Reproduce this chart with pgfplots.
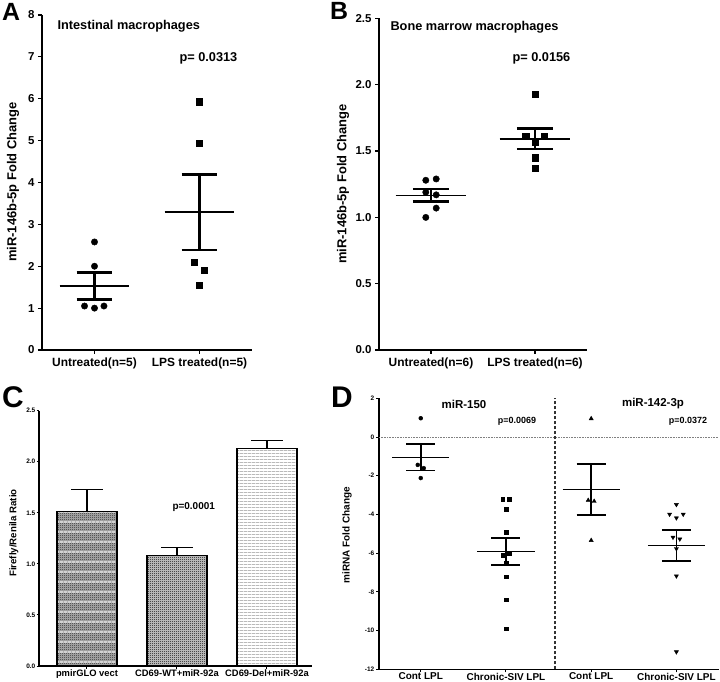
\documentclass[border=0pt]{standalone}
\usepackage{fontspec}
\setmainfont{Liberation Sans}
\usepackage{pgfplots}
\pgfplotsset{compat=1.18}
\usetikzlibrary{patterns}

% fine patterns for the bars of panel C
\pgfdeclarepatternformonly{fcheck}{\pgfpointorigin}{\pgfqpoint{2bp}{2bp}}{\pgfqpoint{2bp}{2bp}}{%
  \pgfpathrectangle{\pgfpointorigin}{\pgfqpoint{1bp}{1bp}}%
  \pgfpathrectangle{\pgfqpoint{1bp}{1bp}}{\pgfqpoint{1bp}{1bp}}%
  \pgfusepath{fill}}
\pgfdeclarepatternformonly{bands}{\pgfpointorigin}{\pgfqpoint{4bp}{9.7bp}}{\pgfqpoint{4bp}{9.7bp}}{%
  \pgfpathrectangle{\pgfpointorigin}{\pgfqpoint{4.05bp}{2bp}}%
  \pgfusepath{fill}}
\pgfdeclarepatternformonly{hlines}{\pgfpointorigin}{\pgfqpoint{4bp}{3bp}}{\pgfqpoint{4bp}{3bp}}{%
  \pgfpathrectangle{\pgfpointorigin}{\pgfqpoint{4.05bp}{1.2bp}}%
  \pgfusepath{fill}}

\newcommand{\fs}[1]{\fontsize{#1}{#1}\selectfont\bfseries}

\pgfplotsset{
  gp/.style={
    scale only axis,
    anchor=south west,
    axis x line=bottom, axis y line=left,
    axis line style={-, line width=1.4bp},
    tick align=outside,
    major tick length=4bp,
    tick style={black, line width=1.2bp},
    /pgf/number format/assume math mode=true,
    clip=false,
  },
}

\begin{document}
\begin{tikzpicture}

% ---------------- A ----------------
\begin{axis}[gp, at={(42bp,332bp)}, width=210bp, height=335bp,
  xmin=0.5, xmax=2.5, ymin=0, ymax=8, ytick={0,...,8},
  xtick={1,2}, xticklabels={Untreated(n=5), LPS treated(n=5)},
  yticklabel style={font=\fs{11.5}},
  xticklabel style={font=\fs{12}}]
  \addplot[only marks, mark=*, mark size=3.2bp, black] coordinates {
    (1,2.58) (1,2.0) (0.905,1.05) (1,1.0) (1.09,1.05)};
  \addplot[only marks, mark=square*, mark size=3.1bp, black] coordinates {
    (2,5.93) (2,4.93) (1.952,2.1) (2.045,1.9) (2,1.55)};
  \addplot[line width=1.5bp] coordinates {(0.667,1.53) (1.333,1.53)};
  \addplot[line width=2.8bp] coordinates {(1,1.85) (1,1.21)};
  \addplot[line width=2.8bp] coordinates {(0.83,1.85) (1.17,1.85)};
  \addplot[line width=2.8bp] coordinates {(0.83,1.21) (1.17,1.21)};
  \addplot[line width=1.5bp] coordinates {(1.667,3.29) (2.333,3.29)};
  \addplot[line width=2.8bp] coordinates {(2,4.19) (2,2.39)};
  \addplot[line width=2.8bp] coordinates {(1.83,4.19) (2.17,4.19)};
  \addplot[line width=2.8bp] coordinates {(1.83,2.39) (2.17,2.39)};
\end{axis}
\node[anchor=west, font=\fs{12.8}] at (54bp,656bp) {Intestinal macrophages};
\node[anchor=west, font=\fs{12.8}] at (176bp,624bp) {p= 0.0313};
\node[rotate=90, font=\fs{13}] at (13bp,500bp) {miR-146b-5p Fold Change};
\node[font=\fs{25}] at (11bp,670bp) {A};

% ---------------- B ----------------
\begin{axis}[gp, at={(379bp,332bp)}, width=208bp, height=331.5bp,
  xmin=0.5, xmax=2.5, ymin=0, ymax=2.5, ytick={0,0.5,...,2.5},
  yticklabel style={font=\fs{11.5}, /pgf/number format/.cd, fixed, fixed zerofill, precision=1},
  xtick={1,2}, xticklabels={Untreated(n=6), LPS treated(n=6)},
  xticklabel style={font=\fs{12}}]
  \addplot[only marks, mark=*, mark size=3.2bp, black] coordinates {
    (0.95,1.28) (1.05,1.29) (0.95,1.19) (1.05,1.17) (1.05,1.07) (0.95,1.00)};
  \addplot[only marks, mark=square*, mark size=3.1bp, black] coordinates {
    (2,1.93) (1.91,1.61) (2.09,1.61) (2,1.57) (2,1.45) (2,1.37)};
  \addplot[line width=1.5bp] coordinates {(0.66,1.167) (1.34,1.167)};
  \addplot[line width=2.5bp] coordinates {(1,1.215) (1,1.12)};
  \addplot[line width=2.5bp] coordinates {(0.825,1.215) (1.175,1.215)};
  \addplot[line width=2.5bp] coordinates {(0.825,1.12) (1.175,1.12)};
  \addplot[line width=1.5bp] coordinates {(1.66,1.59) (2.34,1.59)};
  \addplot[line width=2.5bp] coordinates {(2,1.67) (2,1.515)};
  \addplot[line width=2.5bp] coordinates {(1.825,1.67) (2.175,1.67)};
  \addplot[line width=2.5bp] coordinates {(1.825,1.515) (2.175,1.515)};
\end{axis}
\node[anchor=west, font=\fs{12.8}] at (387bp,655bp) {Bone marrow macrophages};
\node[anchor=west, font=\fs{12.8}] at (509bp,624bp) {p= 0.0156};
\node[rotate=90, font=\fs{13}] at (343bp,498bp) {miR-146b-5p Fold Change};
\node[font=\fs{25}] at (339bp,671bp) {B};

% ---------------- C ----------------
\begin{axis}[gp, at={(39bp,16bp)}, width=273bp, height=255.3bp,
  axis line style={-, line width=1.2bp}, tick style={black, line width=1bp},
  major tick length=2.5bp,
  xmin=0.467, xmax=3.5, ymin=0, ymax=2.5, ytick={0,0.5,...,2.5},
  yticklabel style={font=\fs{6.5}, inner sep=1bp, /pgf/number format/.cd, fixed, fixed zerofill, precision=1},
  xtick={1,2,3}, xticklabels={pmirGLO vect, CD69-WT+miR-92a, CD69-Del+miR-92a},
  xticklabel style={font=\fs{9.4}, inner sep=1.5bp}]
  \addplot[ybar, bar width=60bp, bar shift=0pt, draw=black, line width=1.1bp, fill=gray!62,
    postaction={pattern=fcheck, pattern color=gray!30!black},
    postaction={pattern=bands, pattern color=gray!35}] coordinates {(1,1.51)};
  \addplot[ybar, bar width=60bp, bar shift=0pt, draw=black, line width=1.1bp, fill=gray!35,
    postaction={pattern=fcheck, pattern color=black}] coordinates {(2,1.08)};
  \addplot[ybar, bar width=60bp, bar shift=0pt, draw=black, line width=1.1bp, fill=white,
    postaction={pattern=hlines, pattern color=gray!55}] coordinates {(3,2.13)};
  \addplot[line width=1.2bp] coordinates {(1,1.51) (1,1.73)};
  \addplot[line width=1.2bp] coordinates {(0.825,1.73) (1.175,1.73)};
  \addplot[line width=1.2bp] coordinates {(2,1.08) (2,1.16)};
  \addplot[line width=1.2bp] coordinates {(1.825,1.16) (2.175,1.16)};
  \addplot[line width=1.2bp] coordinates {(3,2.13) (3,2.21)};
  \addplot[line width=1.2bp] coordinates {(2.825,2.21) (3.175,2.21)};
\end{axis}
\node[anchor=west, font=\fs{10}] at (169bp,175bp) {p=0.0001};
\node[rotate=90, font=\fs{9.7}] at (14bp,149bp) {Firefly/Renila Ratio};
\node[font=\fs{30}] at (13bp,285bp) {C};

% ---------------- D ----------------
\begin{axis}[gp, at={(379bp,12.7bp)}, width=340bp, height=271bp,
  axis line style={-, line width=1.2bp}, tick style={black, line width=1bp},
  major tick length=3bp,
  xmin=0.51, xmax=4.5, ymin=-12, ymax=2,
  ytick={2,0,-2,-4,-6,-8,-10,-12}, yticklabels={2,0,-2,-4,-6,-8,-10,-12},
  yticklabel style={font=\fs{6.5}, inner sep=1.5bp},
  xtick={1,2,3,4}, xticklabels={Cont LPL, Chronic-SIV LPL, Cont LPL, Chronic-SIV LPL},
  xticklabel style={font=\fs{10}, inner sep=0.5bp}]
  \addplot[gray, densely dotted, line width=0.6bp] coordinates {(0.51,0) (4.5,0)};
  \addplot[gray!40!black, dash pattern=on 3bp off 2bp, line width=1.2bp] coordinates {(2.575,-12) (2.575,2)};
  \addplot[only marks, mark=*, mark size=2bp, black] coordinates {
    (1,0.97) (0.965,-1.44) (1.035,-1.61) (1,-2.12)};
  \addplot[only marks, mark=square*, mark size=1.8bp, black] coordinates {
    (1.96,-3.22) (2.04,-3.22) (2,-3.72) (2,-4.92) (1.96,-6.11) (2.04,-6.01)
    (2,-6.49) (2,-7.21) (2,-8.4) (2,-9.9)};
  \addplot[only marks, mark=triangle*, mark size=2.4bp, black] coordinates {
    (3,0.95) (2.965,-3.27) (3.035,-3.32) (3,-5.34)};
  \addplot[only marks, mark=triangle*, mark size=2.4bp, black, mark options={rotate=180}] coordinates {
    (4,-3.49) (3.92,-3.99) (4.08,-3.99) (4,-4.18) (3.96,-5.18) (4.04,-5.27)
    (4,-5.77) (4,-7.18) (4,-11.1)};
  % means and SEM
  \addplot[line width=1.1bp] coordinates {(0.665,-1.05) (1.335,-1.05)};
  \addplot[line width=1.8bp] coordinates {(1,-0.38) (1,-1.73)};
  \addplot[line width=1.8bp] coordinates {(0.83,-0.38) (1.17,-0.38)};
  \addplot[line width=1.8bp] coordinates {(0.83,-1.73) (1.17,-1.73)};
  \addplot[line width=1.1bp] coordinates {(1.665,-5.92) (2.335,-5.92)};
  \addplot[line width=1.8bp] coordinates {(2,-5.2) (2,-6.61)};
  \addplot[line width=1.8bp] coordinates {(1.83,-5.2) (2.17,-5.2)};
  \addplot[line width=1.8bp] coordinates {(1.83,-6.61) (2.17,-6.61)};
  \addplot[line width=1.1bp] coordinates {(2.665,-2.72) (3.335,-2.72)};
  \addplot[line width=1.8bp] coordinates {(3,-1.39) (3,-4.04)};
  \addplot[line width=1.8bp] coordinates {(2.83,-1.39) (3.17,-1.39)};
  \addplot[line width=1.8bp] coordinates {(2.83,-4.04) (3.17,-4.04)};
  \addplot[line width=1.1bp] coordinates {(3.665,-5.59) (4.335,-5.59)};
  \addplot[line width=1.8bp] coordinates {(4,-4.8) (4,-6.39)};
  \addplot[line width=1.8bp] coordinates {(3.83,-4.8) (4.17,-4.8)};
  \addplot[line width=1.8bp] coordinates {(3.83,-6.39) (4.17,-6.39)};
\end{axis}
\node[font=\fs{11.5}] at (464bp,278bp) {miR-150};
\node[font=\fs{11.5}] at (653bp,278bp) {miR-142-3p};
\node[font=\fs{9}] at (517bp,261bp) {p=0.0069};
\node[font=\fs{9}] at (688bp,261bp) {p=0.0372};
\node[rotate=90, font=\fs{10}] at (347bp,147bp) {miRNA Fold Change};
\node[font=\fs{30}] at (342bp,285bp) {D};

\pgfresetboundingbox
\useasboundingbox (0bp,0bp) rectangle (720bp,682bp);
\end{tikzpicture}
\end{document}
